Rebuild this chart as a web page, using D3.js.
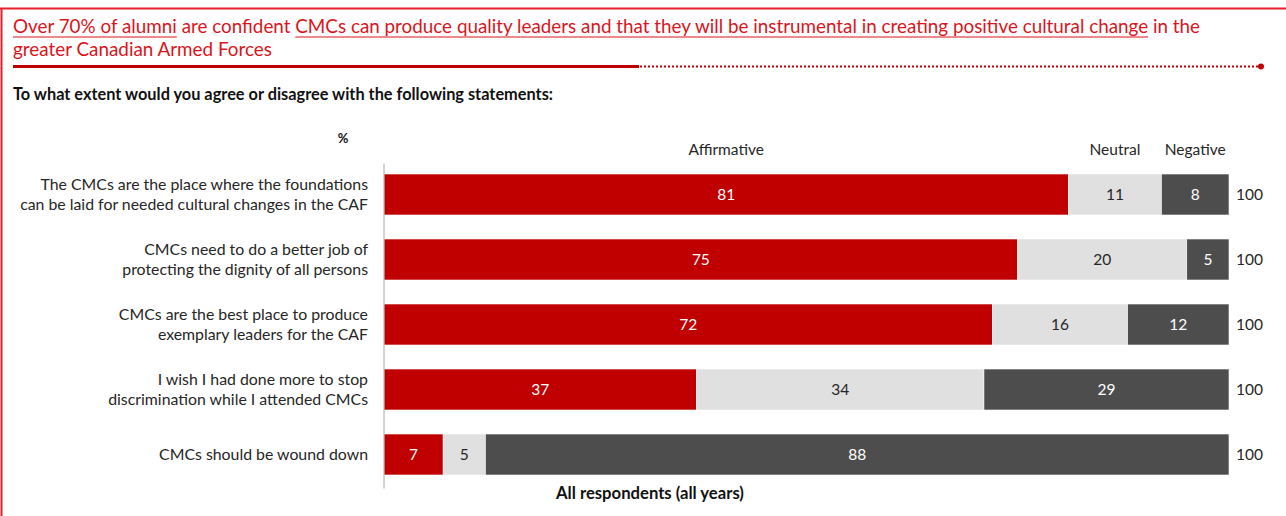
<!DOCTYPE html>
<html><head><meta charset="utf-8">
<script src="https://cdn.jsdelivr.net/npm/d3@7"></script>
<style>body{margin:0;background:#fff;}svg{display:block;}</style>
</head><body>
<svg id="c" width="1286" height="516"></svg>
<script>
const categories = [
  ["The CMCs are the place where the foundations", "can be laid for needed cultural changes in the CAF"],
  ["CMCs need to do a better job of", "protecting the dignity of all persons"],
  ["CMCs are the best place to produce", "exemplary leaders for the CAF"],
  ["I wish I had done more to stop", "discrimination while I attended CMCs"],
  ["CMCs should be wound down"]
];
const affirmative = [81, 75, 72, 37, 7];
const neutral = [11, 20, 16, 34, 5];
const negative = [8, 5, 12, 29, 88];
const totals = [100, 100, 100, 100, 100];
const seriesNames = ["Affirmative", "Neutral", "Negative"];
const titleLine1 = ["Over 70% of alumni", " are confident ", "CMCs can produce quality leaders and that they will be instrumental in creating positive cultural change", " in the"];
const titleUnderline = [true, false, true, false];
const titleLine2 = "greater Canadian Armed Forces";
const subtitle = "To what extent would you agree or disagree with the following statements:";
const unitLabel = "%";
const footLabel = "All respondents (all years)";

const FONT = "Lato, 'Open Sans', sans-serif";
const RED_T = "#D9151D";
const colors = ["#C00000", "#E0E0E0", "#4D4D4D"];
const textColors = ["#FFFFFF", "#262626", "#FFFFFF"];

const svg = d3.select("#c");

function fit(sel, width) {
  const node = sel.node();
  const fs = parseFloat(sel.attr("font-size"));
  const w = node.getComputedTextLength();
  sel.attr("font-size", (fs * width / w).toFixed(2));
}

// border
svg.append("line").attr("x1", 0).attr("x2", 1286).attr("y1", 8.5).attr("y2", 8.5).attr("stroke", "#E8202A").attr("stroke-width", 2);
svg.append("line").attr("x1", 1.5).attr("x2", 1.5).attr("y1", 8).attr("y2", 516).attr("stroke", "#E8202A").attr("stroke-width", 2);

// title
const t1 = svg.append("text").attr("x", 13).attr("y", 33).attr("font-family", FONT).attr("font-size", 17).attr("fill", RED_T);
titleLine1.forEach(s => t1.append("tspan").text(s));
t1.attr("xml:space", "preserve").style("white-space", "pre");
fit(t1, 1187);
{
  const node = t1.node();
  let idx = 0;
  titleLine1.forEach((s, i) => {
    if (titleUnderline[i]) {
      const x0 = node.getSubStringLength(0, idx);
      const w = node.getSubStringLength(idx, s.length);
      svg.append("line").attr("x1", 13 + x0).attr("x2", 13 + x0 + w).attr("y1", 37).attr("y2", 37).attr("stroke", RED_T).attr("stroke-width", 1);
    }
    idx += s.length;
  });
}
const t2 = svg.append("text").attr("x", 13).attr("y", 56).attr("font-family", FONT).attr("font-size", 17).attr("fill", RED_T).text(titleLine2);
fit(t2, 259);

// header rule
svg.append("line").attr("x1", 13).attr("x2", 639).attr("y1", 66.5).attr("y2", 66.5).attr("stroke", "#C00000").attr("stroke-width", 3);
svg.append("line").attr("x1", 640).attr("x2", 1259).attr("y1", 66.5).attr("y2", 66.5).attr("stroke", "#C00000").attr("stroke-width", 2).attr("stroke-dasharray", "2,2");
svg.append("circle").attr("cx", 1261).attr("cy", 66.5).attr("r", 3).attr("fill", "#C00000");

// subtitle
const st = svg.append("text").attr("x", 13).attr("y", 100).attr("font-family", FONT).attr("font-weight", "bold").attr("font-size", 13).attr("fill", "#111").text(subtitle);
fit(st, 540);

// scales
const x = d3.scaleLinear().domain([0, 100]).range([384, 1229]);
const y = d3.scaleBand().domain(d3.range(categories.length)).range([162, 487]).paddingInner(24 / 65).paddingOuter(12 / 65);

const rows = categories.map((c, i) => {
  const vals = [affirmative[i], neutral[i], negative[i]];
  let acc = 0;
  return vals.map((v, k) => { const s = acc; acc += v; return {row: i, k, v, x0: s, x1: acc}; });
});

svg.append("text").attr("x", 343).attr("y", 143).attr("text-anchor", "middle").attr("font-family", FONT).attr("font-weight", "bold").attr("font-size", 13).attr("fill", "#111").text(unitLabel);

const VAL_FS = 15.5;

rows[0].forEach(d => {
  svg.append("text").attr("x", x((d.x0 + d.x1) / 2)).attr("y", 155).attr("text-anchor", "middle")
    .attr("font-family", FONT).attr("font-size", VAL_FS).attr("fill", "#262626").text(seriesNames[d.k]);
});

const g = svg.append("g");
rows.forEach(r => {
  r.forEach(d => {
    g.append("rect").attr("x", x(d.x0)).attr("y", y(d.row)).attr("width", x(d.x1) - x(d.x0)).attr("height", y.bandwidth())
      .attr("fill", colors[d.k]).attr("stroke", "#ffffff").attr("stroke-width", 0.6);
    g.append("text").attr("x", x((d.x0 + d.x1) / 2)).attr("y", y(d.row) + y.bandwidth() / 2).attr("dy", "0.35em")
      .attr("text-anchor", "middle").attr("font-family", FONT).attr("font-size", VAL_FS).attr("fill", textColors[d.k]).text(d.v);
  });
});

totals.forEach((t, i) => {
  svg.append("text").attr("x", x(100) + 7).attr("y", y(i) + y.bandwidth() / 2).attr("dy", "0.35em")
    .attr("font-family", FONT).attr("font-size", VAL_FS).attr("fill", "#262626").text(t);
});

const axis = d3.axisLeft(d3.scaleLinear().range([163, 488])).ticks(0).tickSize(0).tickFormat("");
const ag = svg.append("g").attr("transform", "translate(383.5,0)").call(axis);
ag.select(".domain").attr("stroke", "#A6A6A6").attr("stroke-width", 1);

let labelSize = 13.5;
{
  const probe = svg.append("text").attr("font-family", FONT).attr("font-size", 13.5).text(categories[0][1]);
  labelSize = 13.5 * 348 / probe.node().getComputedTextLength();
  probe.remove();
}
categories.forEach((lines, i) => {
  const cy = y(i) + y.bandwidth() / 2;
  const n = lines.length;
  lines.forEach((ln, j) => {
    svg.append("text").attr("x", 368).attr("y", cy + (j - (n - 1) / 2) * 20).attr("dy", "0.35em").attr("text-anchor", "end")
      .attr("font-family", FONT).attr("font-size", labelSize.toFixed(2)).attr("fill", "#262626").text(ln);
  });
});

const ft = svg.append("text").attr("x", 650).attr("y", 499).attr("text-anchor", "middle").attr("font-family", FONT).attr("font-weight", "bold").attr("font-size", 13).attr("fill", "#111").text(footLabel);
fit(ft, 188);
</script>
</body></html>
